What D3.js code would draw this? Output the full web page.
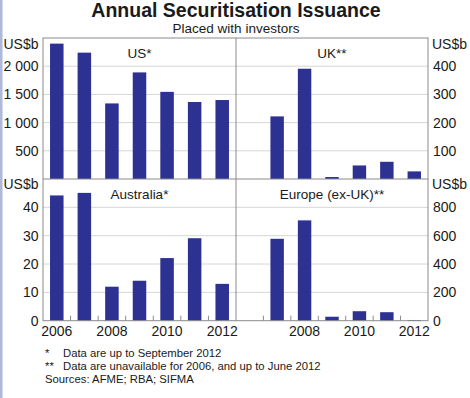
<!DOCTYPE html>
<html>
<head>
<meta charset="utf-8">
<script src="https://cdn.jsdelivr.net/npm/d3@7"></script>
<style>
  html, body { margin: 0; padding: 0; background: #fff; }
  svg text { font-family: Arial, "Liberation Sans", Helvetica, sans-serif; fill: #1a1a1a; }
</style>
</head>
<body>
<svg id="chart" width="470" height="398"></svg>
<script>
// ---- data ----
const years = ["2006", "2007", "2008", "2009", "2010", "2011", "2012"];
const xTickYears = ["2006", "2008", "2010", "2012"];
const usValues = [2400, 2240, 1340, 1890, 1545, 1365, 1400];
const ukValues = [null, 222, 391, 7, 48, 61, 27];
const australiaValues = [44.2, 45.1, 12, 14.1, 22.1, 29.1, 13];
const europeValues = [null, 578, 708, 28, 67, 60, 5];
const usTicks = [500, 1000, 1500, 2000];
const usTickLabels = ["500", "1 000", "1 500", "2 000"];
const ukTicks = [100, 200, 300, 400];
const ausTicks = [0, 10, 20, 30, 40];
const eurTicks = [0, 200, 400, 600, 800];
const title = "Annual Securitisation Issuance";
const subtitle = "Placed with investors";
const footnotes = [
  ["*", "Data are up to September 2012"],
  ["**", "Data are unavailable for 2006, and up to June 2012"]
];
const sourceText = "Sources: AFME; RBA; SIFMA";

// ---- layout ----
const svg = d3.select("#chart");
const W = 470, H = 398;
const L = 43, M = 236, R = 428;
const T = 38, MID = 179, B = 320.7;
const barColor = "#2d3192";
const gridColor = "#d6d6d6";
const frameColor = "#8a8a8a";

svg.append("rect").attr("width", W).attr("height", H).attr("fill", "#fff");
svg.append("rect").attr("x", 0).attr("y", 0).attr("width", 2.5).attr("height", H).attr("fill", "#aeb8da");

// titles
svg.append("text").attr("x", 236).attr("y", 17).attr("text-anchor", "middle")
  .attr("font-size", 19.5).attr("font-weight", "bold").text(title);
svg.append("text").attr("x", 236).attr("y", 32.5).attr("text-anchor", "middle")
  .attr("font-size", 13.5).text(subtitle);

const xLeft = d3.scaleBand().domain(years).range([L, M]).paddingInner(0.51).paddingOuter(0.255);
const xRight = d3.scaleBand().domain(years).range([M, R]).paddingInner(0.51).paddingOuter(0.255);

const panels = [
  { name: "US*", x: xLeft, y: d3.scaleLinear().domain([0, 2500]).range([MID, T]), vals: usValues, top: T, bottom: MID },
  { name: "UK**", x: xRight, y: d3.scaleLinear().domain([0, 500]).range([MID, T]), vals: ukValues, top: T, bottom: MID },
  { name: "Australia*", x: xLeft, y: d3.scaleLinear().domain([0, 50]).range([B, MID]), vals: australiaValues, top: MID, bottom: B },
  { name: "Europe (ex-UK)**", x: xRight, y: d3.scaleLinear().domain([0, 1000]).range([B, MID]), vals: europeValues, top: MID, bottom: B }
];

// gridlines
const gridSets = [
  [panels[0], usTicks], [panels[1], ukTicks], [panels[2], ausTicks.slice(1)], [panels[3], eurTicks.slice(1)]
];
gridSets.forEach(([p, ticks]) => {
  const [x0, x1] = p.x.range();
  svg.append("g").selectAll("line").data(ticks).join("line")
    .attr("x1", x0).attr("x2", x1)
    .attr("y1", d => p.y(d)).attr("y2", d => p.y(d))
    .attr("stroke", gridColor).attr("stroke-width", 1);
});

// bars
panels.forEach(p => {
  const data = years.map((yr, i) => ({ yr, v: p.vals[i] })).filter(d => d.v !== null);
  svg.append("g").selectAll("rect").data(data).join("rect")
    .attr("x", d => p.x(d.yr)).attr("width", p.x.bandwidth())
    .attr("y", d => p.y(d.v)).attr("height", d => p.y(0) - p.y(d.v))
    .attr("fill", barColor);
  const [x0, x1] = p.x.range();
  svg.append("text").attr("x", (x0 + x1) / 2).attr("y", p.top + 19.5)
    .attr("text-anchor", "middle").attr("font-size", 13.5).text(p.name);
});

// bottom tick marks (category boundaries)
[xLeft, xRight].forEach(x => {
  const bounds = years.slice(1).map(yr => x(yr) - x.step() * x.paddingInner() / 2);
  svg.append("g").selectAll("line").data(bounds).join("line")
    .attr("x1", d => d).attr("x2", d => d).attr("y1", B).attr("y2", B - 5)
    .attr("stroke", frameColor).attr("stroke-width", 1);
});

// frame
svg.append("rect").attr("x", L).attr("y", T).attr("width", R - L).attr("height", B - T)
  .attr("fill", "none").attr("stroke", frameColor).attr("stroke-width", 1);
svg.append("line").attr("x1", L).attr("x2", R).attr("y1", MID).attr("y2", MID)
  .attr("stroke", frameColor).attr("stroke-width", 1);
svg.append("line").attr("x1", M).attr("x2", M).attr("y1", T).attr("y2", B)
  .attr("stroke", frameColor).attr("stroke-width", 1);

// y axes using d3 axis generators (no domain, no tick lines)
function yAxis(p, ticks, side, fmt) {
  const ax = (side === "left" ? d3.axisLeft(p.y) : d3.axisRight(p.y))
    .tickValues(ticks).tickSize(0).tickPadding(0).tickFormat(fmt);
  const g = svg.append("g")
    .attr("transform", `translate(${side === "left" ? 38.5 : 433},0)`)
    .call(ax);
  g.select(".domain").remove();
  g.selectAll("text").attr("font-size", 14).attr("font-family", null).attr("fill", "#1a1a1a");
  return g;
}
yAxis(panels[0], usTicks, "left", (d, i) => usTickLabels[i]);
yAxis(panels[1], ukTicks, "right", d3.format("d"));
yAxis(panels[2], ausTicks, "left", d3.format("d"));
yAxis(panels[3], eurTicks, "right", d3.format("d"));

// unit labels
[[T + 6, "left"], [MID + 5.5, "left"], [T + 6, "right"], [MID + 5.5, "right"]].forEach(([yy, side]) => {
  svg.append("text").attr("x", side === "left" ? 38.5 : 432).attr("y", yy).attr("dy", "0.35em")
    .attr("text-anchor", side === "left" ? "end" : "start").attr("font-size", 14).text("US$b");
});

// x axes (labels only)
[xLeft, xRight].forEach((x, k) => {
  const ax = d3.axisBottom(x).tickValues(k === 0 ? xTickYears : xTickYears.slice(1)).tickSize(0).tickPadding(0);
  const g = svg.append("g").attr("transform", `translate(0,${B + 5})`).call(ax);
  g.select(".domain").remove();
  g.selectAll("text").attr("font-size", 14).attr("font-family", null).attr("fill", "#1a1a1a").attr("dy", "0.71em");
});

// footnotes
footnotes.forEach(([mark, txt], i) => {
  const yy = 357 + i * 13;
  svg.append("text").attr("x", 45).attr("y", yy).attr("font-size", 11.3).text(mark);
  svg.append("text").attr("x", 63).attr("y", yy).attr("font-size", 11.3).text(txt);
});
svg.append("text").attr("x", 45).attr("y", 383).attr("font-size", 11.3).text(sourceText);
</script>
</body>
</html>
